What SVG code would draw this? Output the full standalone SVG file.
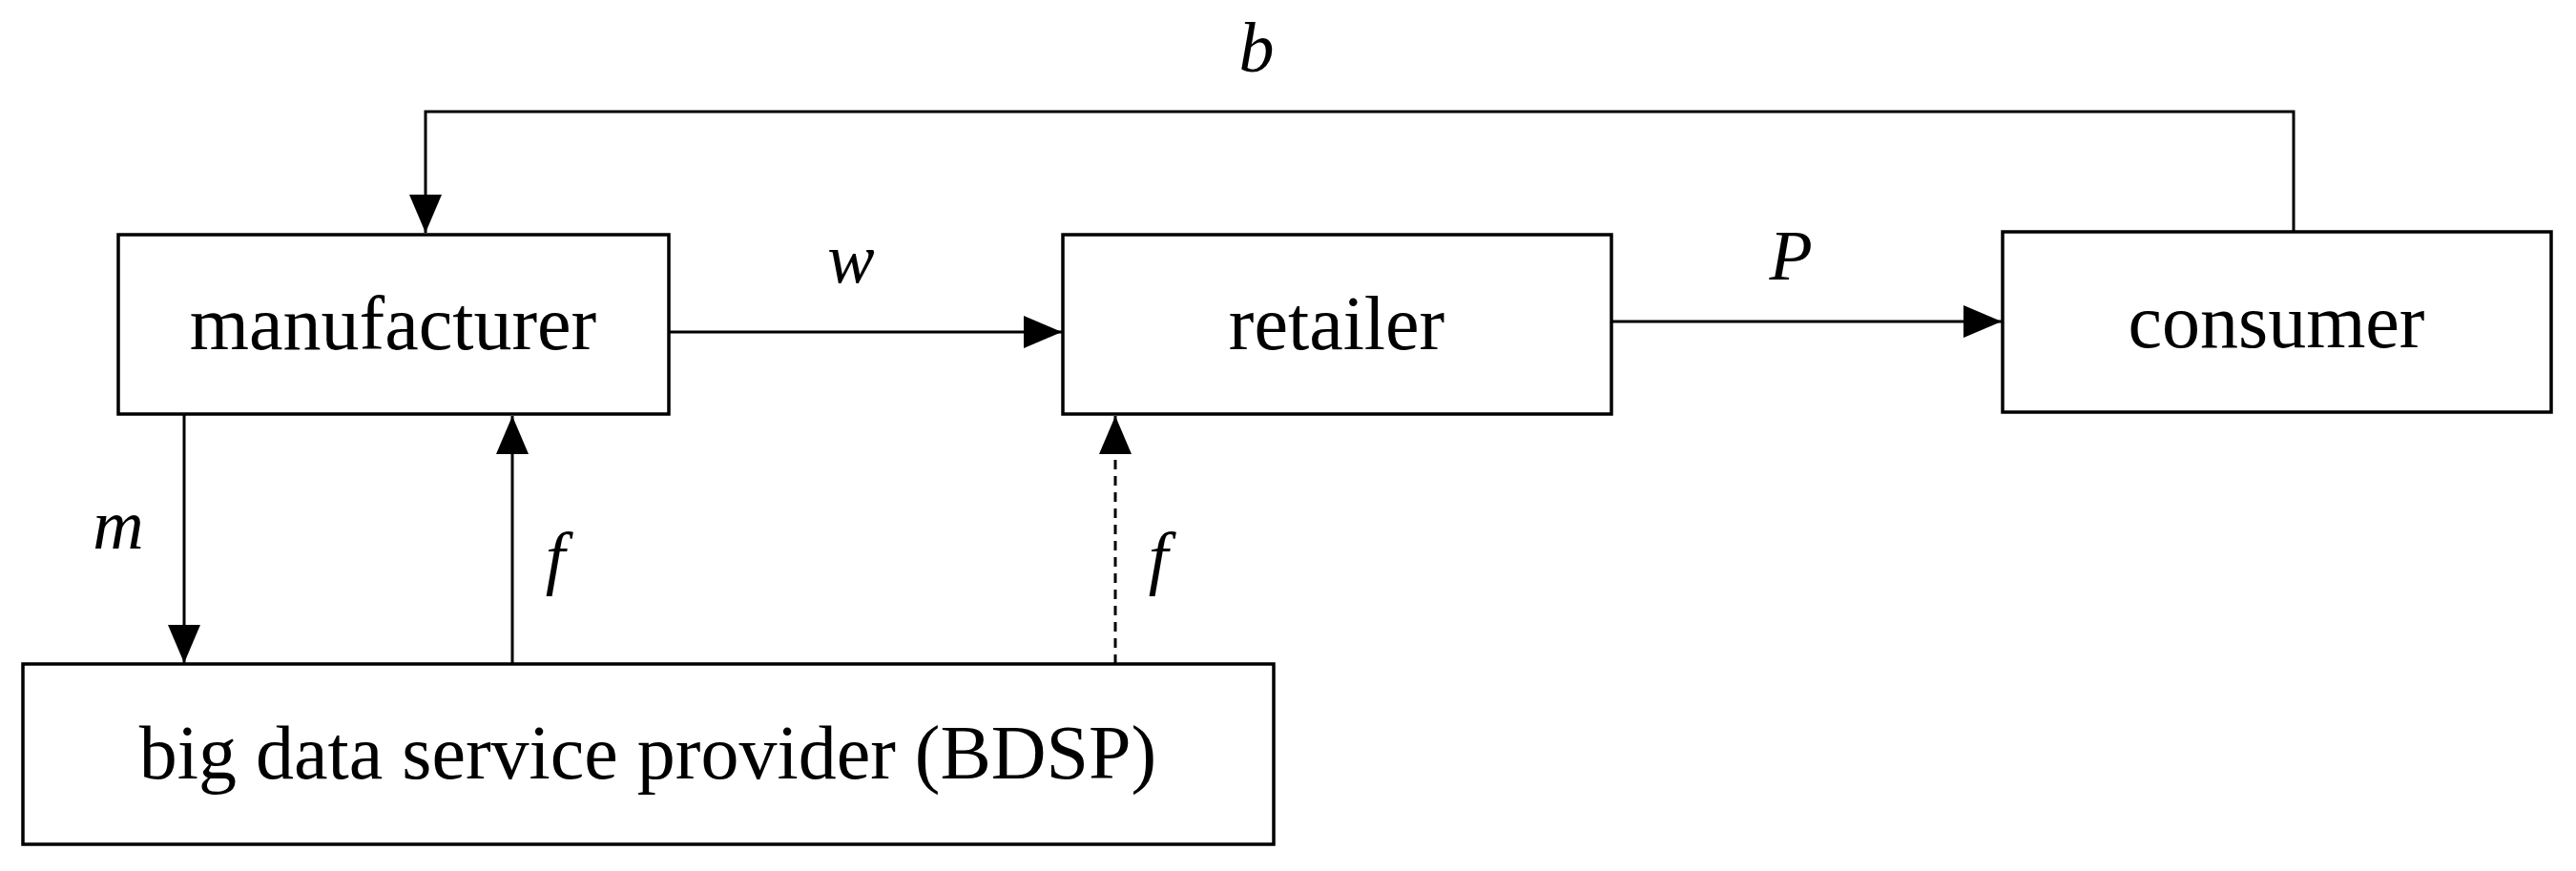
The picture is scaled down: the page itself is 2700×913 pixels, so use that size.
<svg xmlns="http://www.w3.org/2000/svg" width="2700" height="913" viewBox="0 0 2700 913">
<style>
.box{fill:#fff;stroke:#000;stroke-width:3.5}
.t{font-family:"Liberation Serif",serif;font-size:80px;text-anchor:middle;fill:#000}
.v{font-family:"Liberation Serif",serif;font-size:74px;font-style:italic;text-anchor:middle;fill:#000}
.c{stroke:#000;stroke-width:3;fill:none}
</style>
<defs>
<marker id="h" viewBox="0 0 40 34" refX="40" refY="17" markerWidth="40" markerHeight="34" orient="auto" markerUnits="userSpaceOnUse"><path d="M0,0 L40,17 L0,34 Z" fill="#000"/></marker></defs>
<g id="connectors">
<path class="c" d="M2404,243 V117 H446 V244" marker-end="url(#h)"/>
<path class="c" d="M701,348 H1113" marker-end="url(#h)"/>
<path class="c" d="M1689,337 H2098" marker-end="url(#h)"/>
<path class="c" d="M193,434 V695" marker-end="url(#h)"/>
<path class="c" d="M537,696 V436" marker-end="url(#h)"/>
<path class="c" d="M1169,696 V436" stroke-dasharray="10,7" marker-end="url(#h)"/>
<text class="v" x="1317" y="75">b</text>
<text class="v" x="892" y="296">w</text>
<text class="v" x="1877" y="293">P</text>
<text class="v" x="124" y="575">m</text>
<text class="v" x="582" y="609">f</text>
<text class="v" x="1214" y="609">f</text>
</g>
<g id="manufacturer"><rect class="box" x="124" y="246" width="577" height="188"/><text class="t" x="412" y="366">manufacturer</text></g>
<g id="retailer"><rect class="box" x="1114" y="246" width="575" height="188"/><text class="t" x="1401" y="366">retailer</text></g>
<g id="consumer"><rect class="box" x="2099" y="243" width="575" height="189"/><text class="t" x="2386" y="364">consumer</text></g>
<g id="bdsp"><rect class="box" x="24" y="696" width="1311" height="189"/><text class="t" x="679" y="816">big data service provider (BDSP)</text></g>
</svg>
